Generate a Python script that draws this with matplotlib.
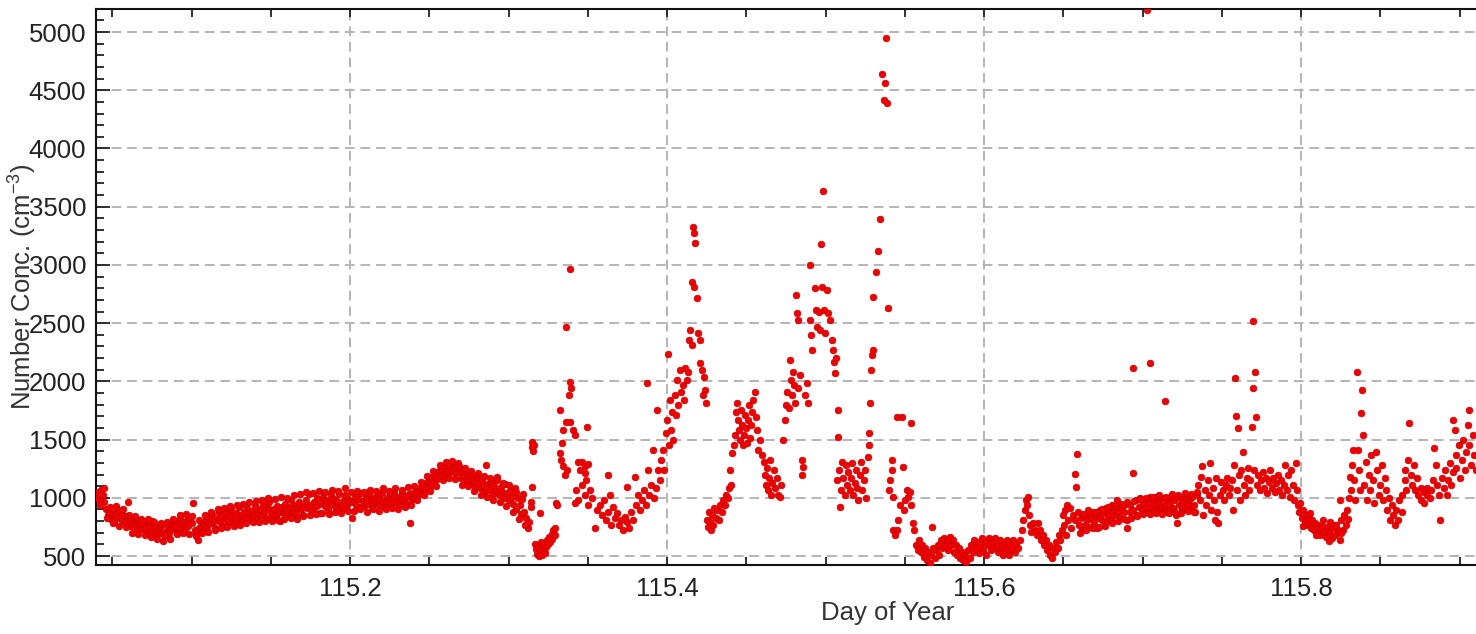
import matplotlib.pyplot as plt
from matplotlib.ticker import MultipleLocator

plt.rcParams['font.family'] = ['Liberation Sans', 'DejaVu Sans']
plt.rcParams['mathtext.default'] = 'regular'

# (day of year, number concentration), in chunks
seg_a = [
    (115.040, 1000), (115.041, 1050), (115.042, 970), (115.043, 1070), (115.044, 1020),
    (115.045, 960), (115.046, 900), (115.047, 850), (115.048, 880), (115.049, 820),
    (115.050, 870), (115.051, 800), (115.052, 860), (115.053, 900), (115.054, 830),
    (115.055, 880), (115.056, 810), (115.057, 850), (115.058, 790), (115.059, 840),
    (115.060, 960), (115.061, 800), (115.062, 760), (115.063, 820), (115.064, 780),
    (115.065, 740), (115.066, 810), (115.067, 770), (115.068, 820), (115.069, 730),
    (115.070, 790), (115.071, 750), (115.072, 700), (115.073, 780), (115.074, 740),
    (115.075, 800), (115.076, 710), (115.077, 760), (115.078, 690), (115.079, 740),
    (115.080, 700), (115.081, 760), (115.082, 630), (115.083, 710), (115.084, 680),
    (115.085, 750), (115.086, 700), (115.087, 770), (115.088, 730), (115.089, 800),
    (115.090, 750), (115.091, 700), (115.092, 780), (115.093, 820), (115.094, 740),
    (115.095, 790), (115.096, 720), (115.097, 810), (115.098, 760), (115.099, 830),
    (115.100, 780), (115.101, 955), (115.102, 720), (115.103, 690), (115.104, 640),
    (115.105, 740), (115.106, 790), (115.107, 720), (115.108, 760), (115.109, 810),
    (115.110, 750), (115.111, 830), (115.112, 780), (115.113, 860), (115.114, 800),
    (115.115, 740), (115.116, 820), (115.117, 870), (115.118, 790), (115.119, 840),
    (115.120, 760), (115.121, 880), (115.122, 820), (115.123, 790), (115.124, 860),
    (115.125, 900), (115.126, 830), (115.127, 780), (115.128, 870), (115.129, 820),
    (115.130, 920), (115.131, 850), (115.132, 800), (115.133, 880), (115.134, 830),
    (115.135, 910), (115.136, 860), (115.137, 810), (115.138, 890), (115.139, 840),
    (115.140, 930), (115.141, 870), (115.142, 820), (115.143, 900), (115.144, 850),
    (115.145, 940), (115.146, 880), (115.147, 830), (115.148, 910), (115.149, 960),
    (115.150, 870), (115.151, 820), (115.152, 900), (115.153, 850), (115.154, 930),
    (115.155, 880), (115.156, 800), (115.157, 920), (115.158, 870), (115.159, 950),
    (115.160, 890), (115.161, 840), (115.162, 920), (115.163, 980), (115.164, 880),
    (115.165, 940), (115.166, 860), (115.167, 910), (115.168, 960), (115.169, 900),
    (115.170, 850), (115.171, 930), (115.172, 980), (115.173, 910), (115.174, 1030),
    (115.175, 940), (115.176, 880), (115.177, 960), (115.178, 920), (115.179, 1000),
    (115.180, 940), (115.181, 870), (115.182, 960), (115.183, 1010), (115.184, 930),
    (115.185, 980), (115.186, 900), (115.187, 960), (115.188, 1020), (115.189, 940),
    (115.190, 990), (115.191, 920), (115.192, 970), (115.193, 1030), (115.194, 950),
    (115.195, 900), (115.196, 980), (115.197, 1020), (115.198, 940), (115.199, 990),
    (115.200, 960),
]

# second pass over the same stretch: the band is thick
seg_a2 = [
    (115.0405, 1030), (115.0425, 940), (115.0445, 1080), (115.0465, 830), (115.0485, 920),
    (115.0505, 780), (115.0525, 930), (115.0545, 760), (115.0565, 900), (115.0585, 750),
    (115.0605, 850), (115.0625, 700), (115.0645, 840), (115.0665, 690), (115.0685, 800),
    (115.0705, 680), (115.0725, 820), (115.0745, 660), (115.0765, 790), (115.0785, 650),
    (115.0805, 780), (115.0825, 680), (115.0845, 790), (115.0865, 650), (115.0885, 820),
    (115.0905, 690), (115.0925, 850), (115.0945, 700), (115.0965, 860), (115.0985, 690),
    (115.1005, 840), (115.1025, 670), (115.1045, 810), (115.1065, 700), (115.1085, 850),
    (115.1105, 710), (115.1125, 880), (115.1145, 720), (115.1165, 900), (115.1185, 740),
    (115.1205, 910), (115.1225, 750), (115.1245, 930), (115.1265, 760), (115.1285, 940),
    (115.1305, 770), (115.1325, 950), (115.1345, 780), (115.1365, 960), (115.1385, 790),
    (115.1405, 970), (115.1425, 790), (115.1445, 980), (115.1465, 800), (115.1485, 1000),
    (115.1505, 800), (115.1525, 990), (115.1545, 810), (115.1565, 1010), (115.1585, 820),
    (115.1605, 1000), (115.1625, 830), (115.1645, 1020), (115.1665, 820), (115.1685, 1030),
    (115.1705, 840), (115.1725, 1050), (115.1745, 850), (115.1765, 1040), (115.1785, 860),
    (115.1805, 1060), (115.1825, 870), (115.1845, 1050), (115.1865, 860), (115.1885, 1070),
    (115.1905, 880), (115.1925, 1060), (115.1945, 870), (115.1965, 1080), (115.1985, 890),
]

seg_b = [
    (115.201, 830), (115.202, 960), (115.203, 1010), (115.204, 940), (115.205, 990),
    (115.206, 920), (115.207, 1040), (115.208, 970), (115.209, 930), (115.210, 1000),
    (115.211, 950), (115.212, 1030), (115.213, 980), (115.214, 920), (115.215, 1000),
    (115.216, 960), (115.217, 1020), (115.218, 940), (115.219, 990), (115.220, 1040),
    (115.221, 960), (115.222, 920), (115.223, 1000), (115.224, 970), (115.225, 1030),
    (115.226, 950), (115.227, 990), (115.228, 1050), (115.229, 960), (115.230, 1010),
    (115.231, 940), (115.232, 990), (115.233, 1040), (115.234, 970), (115.235, 1010),
    (115.236, 950), (115.237, 1030), (115.238, 780), (115.239, 990), (115.240, 1040),
    (115.241, 1000), (115.242, 1060), (115.243, 1020), (115.244, 1080), (115.245, 1040),
    (115.246, 1100), (115.247, 1060), (115.248, 1130), (115.249, 1090), (115.250, 1150),
    (115.251, 1110), (115.252, 1180), (115.253, 1140), (115.254, 1200), (115.255, 1160),
    (115.256, 1230), (115.257, 1190), (115.258, 1250), (115.259, 1200), (115.260, 1270),
    (115.261, 1220), (115.262, 1180), (115.263, 1260), (115.264, 1230), (115.265, 1290),
    (115.266, 1210), (115.267, 1250), (115.268, 1300), (115.269, 1220), (115.270, 1170),
    (115.271, 1240), (115.272, 1190), (115.273, 1150), (115.274, 1210), (115.275, 1170),
    (115.276, 1120), (115.277, 1190), (115.278, 1150), (115.279, 1100), (115.280, 1170),
    (115.281, 1130), (115.282, 1080), (115.283, 1150), (115.284, 1110), (115.285, 1060),
    (115.286, 1280), (115.287, 1120), (115.288, 1070), (115.289, 1140), (115.290, 1030),
    (115.291, 1100), (115.292, 1060), (115.293, 1180), (115.294, 1020), (115.295, 1090),
    (115.296, 1050), (115.297, 1000), (115.298, 1120), (115.299, 1040), (115.300, 980),
    (115.301, 1060), (115.302, 1010), (115.303, 950), (115.304, 1080), (115.305, 900),
    (115.306, 1000), (115.307, 940), (115.308, 860), (115.309, 1030), (115.310, 880),
    (115.311, 830), (115.312, 740), (115.313, 790), (115.314, 960), (115.3150, 1090),
    (115.3148, 1480), (115.3150, 1440), (115.3155, 1400), (115.3158, 1450), (115.3142, 920),
    (115.3198, 870), (115.3170, 600), (115.3176, 560), (115.3182, 520), (115.3188, 580),
    (115.3195, 500), (115.3201, 540), (115.3207, 620), (115.3214, 510), (115.3220, 560),
    (115.3226, 600), (115.3233, 530), (115.3239, 580), (115.3245, 640), (115.3252, 600),
    (115.3258, 660), (115.3264, 620), (115.3271, 690), (115.3277, 650), (115.3283, 720),
    (115.3290, 680), (115.3296, 740),
]

seg_b2 = [
    (115.2005, 1050), (115.2025, 890), (115.2045, 1060), (115.2065, 900), (115.2085, 1050),
    (115.2105, 880), (115.2125, 1070), (115.2145, 900), (115.2165, 1060), (115.2185, 890),
    (115.2205, 1080), (115.2225, 900), (115.2245, 1060), (115.2265, 910), (115.2285, 1080),
    (115.2305, 900), (115.2325, 1070), (115.2345, 920), (115.2365, 1090), (115.2385, 940),
    (115.2405, 1100), (115.2425, 980), (115.2445, 1140), (115.2465, 1020), (115.2485, 1190),
    (115.2505, 1060), (115.2525, 1230), (115.2545, 1100), (115.2565, 1280), (115.2585, 1150),
    (115.2605, 1310), (115.2625, 1170), (115.2645, 1320), (115.2665, 1160), (115.2685, 1270),
    (115.2705, 1110), (115.2725, 1260), (115.2745, 1100), (115.2765, 1230), (115.2785, 1060),
    (115.2805, 1210), (115.2825, 1020), (115.2845, 1190), (115.2865, 1010), (115.2885, 1170),
    (115.2905, 980), (115.2925, 1150), (115.2945, 960), (115.2965, 1130), (115.2985, 930),
    (115.3005, 1110), (115.3025, 880), (115.3045, 1050), (115.3065, 820), (115.3085, 990),
    (115.3105, 770),
]

seg_c = [
    (115.3300, 955), (115.3306, 940), (115.3325, 1750), (115.3363, 2470), (115.3388, 2965),
    (115.3388, 1995), (115.3394, 1940), (115.3382, 1880), (115.3344, 1580), (115.3363, 1650),
    (115.3388, 1650), (115.3407, 1580), (115.3420, 1540), (115.3338, 1470), (115.3325, 1385),
    (115.3332, 1325), (115.3344, 1270), (115.3357, 1195), (115.3369, 1240), (115.3439, 1305),
    (115.3464, 1305), (115.3483, 1275), (115.3502, 1290), (115.3451, 1240), (115.3483, 1215),
    (115.3495, 1610), (115.3426, 1065), (115.3439, 980), (115.3464, 1110), (115.3483, 1025),
    (115.3502, 940), (115.3514, 1065), (115.3527, 1000), (115.3489, 1150), (115.3420, 955),
    (115.3546, 740), (115.3558, 895), (115.3577, 940), (115.3590, 850), (115.3602, 980),
    (115.3615, 810), (115.3628, 1195), (115.3628, 880), (115.3640, 1025), (115.3647, 765),
    (115.3660, 920), (115.3672, 825), (115.3685, 870), (115.3697, 765), (115.3710, 810),
    (115.3723, 725), (115.3735, 835), (115.3748, 1090), (115.3748, 790), (115.3760, 740),
    (115.3773, 880), (115.3786, 810), (115.3798, 1180), (115.3804, 940), (115.3817, 1025),
    (115.3830, 895), (115.3842, 980), (115.3855, 1065), (115.3867, 940), (115.3874, 1985),
    (115.3880, 1240), (115.3886, 1025), (115.3899, 1110), (115.3912, 1410), (115.3918, 1000),
    (115.3930, 1085), (115.3937, 1755), (115.3943, 1240), (115.3956, 1150), (115.3962, 1325),
    (115.3975, 1410), (115.3981, 1240), (115.3994, 1555), (115.4000, 1670), (115.4006, 2235),
    (115.4013, 1455), (115.4019, 1840), (115.4025, 1580), (115.4032, 1735), (115.4038, 1495),
    (115.4051, 1880), (115.4057, 1710), (115.4063, 2010), (115.4070, 1795), (115.4082, 2095),
    (115.4089, 1910), (115.4101, 1970), (115.4107, 1840), (115.4114, 2115), (115.4127, 2010),
    (115.4133, 2080), (115.4139, 2355), (115.4145, 2440), (115.4158, 2310), (115.4164, 3325),
    (115.4170, 3275), (115.4177, 3190), (115.4158, 2855), (115.4170, 2810), (115.4189, 2715),
    (115.4196, 2415), (115.4208, 2355), (115.4208, 2155), (115.4221, 2095), (115.4234, 2035),
    (115.4240, 1925), (115.4246, 1815), (115.4227, 1880),
]

seg_d = [
    (115.4253, 810), (115.4259, 750), (115.4265, 880), (115.4271, 790), (115.4278, 725),
    (115.4284, 850), (115.4290, 765), (115.4297, 910), (115.4309, 825), (115.4316, 895),
    (115.4328, 810), (115.4335, 940), (115.4347, 880), (115.4354, 980), (115.4366, 940),
    (115.4372, 1025), (115.4385, 1000), (115.4391, 1085), (115.4398, 1240), (115.4404, 1110),
    (115.4410, 1385), (115.4423, 1455), (115.4429, 1540), (115.4435, 1735), (115.4442, 1815),
    (115.4448, 1670), (115.4454, 1580), (115.4461, 1495), (115.4467, 1755), (115.4473, 1625),
    (115.4480, 1455), (115.4486, 1540), (115.4492, 1710), (115.4499, 1600), (115.4505, 1470),
    (115.4511, 1670), (115.4518, 1795), (115.4524, 1515), (115.4530, 1625), (115.4537, 1735),
    (115.4543, 1840), (115.4555, 1910), (115.4562, 1690), (115.4568, 1580), (115.4574, 1410),
    (115.4587, 1495), (115.4600, 1365), (115.4612, 1305), (115.4618, 1195), (115.4625, 1110),
    (115.4631, 1255), (115.4637, 1065), (115.4644, 1170), (115.4650, 1325), (115.4656, 1025),
    (115.4663, 1125), (115.4675, 1240), (115.4681, 1085), (115.4694, 1170), (115.4700, 1025),
    (115.4713, 1005), (115.4719, 1110), (115.4732, 1495), (115.4744, 1670), (115.4751, 1795),
    (115.4757, 1910), (115.4770, 1770), (115.4776, 2185), (115.4782, 2010), (115.4789, 1880),
    (115.4795, 2080), (115.4801, 1970), (115.4808, 1815), (115.4814, 2740), (115.4820, 2585),
    (115.4827, 2525), (115.4827, 1945), (115.4839, 2055), (115.4852, 1325), (115.4852, 1195),
    (115.4858, 1265), (115.4871, 1880), (115.4883, 1985), (115.4890, 1815), (115.4902, 3000),
    (115.4902, 2525), (115.4909, 2400), (115.4915, 2270), (115.4934, 2800), (115.4940, 2610),
    (115.4947, 2465), (115.4959, 2595), (115.4966, 2440), (115.4972, 3180), (115.4978, 2810),
    (115.4985, 3635), (115.4991, 2610), (115.4997, 2415), (115.5010, 2785), (115.5016, 2585),
    (115.5029, 2525), (115.5042, 2355), (115.5048, 2270), (115.5054, 2165), (115.5060, 2070),
    (115.5067, 2200), (115.5079, 1755), (115.5079, 1520), (115.5073, 1150), (115.5086, 1240),
    (115.5092, 920), (115.5098, 1065), (115.5105, 1305), (115.5111, 1170), (115.5123, 1025),
    (115.5130, 1280), (115.5136, 1110), (115.5143, 1220), (115.5155, 1065), (115.5162, 1170),
    (115.5168, 1300), (115.5174, 1025), (115.5187, 1125), (115.5193, 1240), (115.5200, 1085),
    (115.5206, 980), (115.5219, 1195), (115.5225, 1305), (115.5231, 1065), (115.5244, 1150),
    (115.5250, 1240), (115.5256, 1000), (115.5269, 1350), (115.5275, 1455), (115.5275, 1555),
    (115.5282, 1815), (115.5288, 2095), (115.5294, 2225), (115.5301, 2270), (115.5301, 2725),
    (115.5320, 2940), (115.5332, 3120), (115.5345, 3395), (115.5357, 4640), (115.5370, 4415),
    (115.5376, 4560), (115.5383, 4950), (115.5389, 4390), (115.5395, 2630), (115.5402, 1065),
    (115.5408, 1150), (115.5421, 1325), (115.5421, 1240), (115.5427, 1005), (115.5427, 725),
    (115.5439, 680), (115.5452, 1695), (115.5452, 725), (115.5458, 810), (115.5471, 940),
    (115.5484, 1695), (115.5490, 1265), (115.5496, 895), (115.5503, 980), (115.5515, 1065),
    (115.5522, 1005), (115.5534, 1050), (115.5541, 1640), (115.5541, 940), (115.5553, 785),
    (115.5560, 725),
]

seg_e = [
    (115.5571, 595), (115.5584, 550), (115.5590, 640), (115.5603, 535), (115.5609, 595),
    (115.5622, 490), (115.5628, 570), (115.5641, 465), (115.5647, 535), (115.5660, 440),
    (115.5666, 510), (115.5672, 750), (115.5679, 570), (115.5691, 485), (115.5698, 550),
    (115.5710, 595), (115.5717, 510), (115.5729, 640), (115.5735, 570), (115.5748, 655),
    (115.5754, 595), (115.5767, 640), (115.5773, 550), (115.5786, 665), (115.5792, 595),
    (115.5805, 640), (115.5811, 535), (115.5824, 595), (115.5830, 510), (115.5843, 570),
    (115.5849, 485), (115.5862, 535), (115.5868, 465), (115.5881, 510), (115.5887, 450),
    (115.5900, 550), (115.5912, 485), (115.5919, 595), (115.5931, 535), (115.5938, 640),
    (115.5950, 570), (115.5957, 620), (115.5969, 525), (115.5976, 595), (115.5988, 655),
    (115.5994, 550), (115.6007, 610), (115.6013, 510), (115.6026, 595), (115.6032, 655),
    (115.6045, 550), (115.6051, 620), (115.6064, 570), (115.6070, 655), (115.6083, 595),
    (115.6089, 535), (115.6102, 640), (115.6108, 570), (115.6121, 510), (115.6127, 595),
    (115.6140, 550), (115.6146, 640), (115.6159, 510), (115.6165, 595), (115.6178, 550),
    (115.6184, 640), (115.6197, 535), (115.6203, 595), (115.6216, 570), (115.6228, 640),
    (115.6241, 725), (115.6247, 810), (115.6260, 895), (115.6266, 980), (115.6272, 940),
    (115.6279, 1005), (115.6285, 850), (115.6291, 765), (115.6298, 705), (115.6310, 785),
    (115.6323, 725), (115.6336, 680), (115.6342, 785), (115.6355, 725), (115.6361, 640),
    (115.6374, 680), (115.6380, 595), (115.6393, 640), (115.6399, 550), (115.6412, 595),
    (115.6418, 510), (115.6431, 485), (115.6437, 570), (115.6450, 535), (115.6456, 620),
    (115.6469, 570), (115.6475, 680), (115.6481, 640), (115.6494, 725), (115.6500, 850),
    (115.6507, 765), (115.6513, 895), (115.6519, 680), (115.6526, 940), (115.6532, 810),
    (115.6545, 910), (115.6551, 740), (115.6564, 850), (115.6576, 1205), (115.6583, 1090),
    (115.6589, 1375), (115.6576, 810), (115.6595, 880), (115.6602, 765), (115.6614, 825),
    (115.6620, 725), (115.6633, 850), (115.6639, 765), (115.6652, 810), (115.6658, 895),
    (115.6671, 750), (115.6677, 825), (115.6690, 880), (115.6696, 790), (115.6709, 850),
    (115.6715, 740), (115.6728, 825), (115.6734, 895), (115.6747, 810), (115.6753, 870),
    (115.6766, 790), (115.6772, 910), (115.6785, 845), (115.6791, 895), (115.6804, 810),
    (115.6810, 940), (115.6823, 850), (115.6829, 895), (115.6842, 980), (115.6848, 880),
]

seg_f = [
    (115.6861, 825), (115.6867, 920), (115.6880, 880), (115.6886, 940), (115.6899, 810),
    (115.6905, 740), (115.6918, 880), (115.6924, 940), (115.6937, 2115), (115.6943, 1215),
    (115.6943, 895), (115.6956, 980), (115.6962, 850), (115.6975, 920), (115.6981, 1000),
    (115.6994, 895), (115.7000, 955), (115.7013, 910), (115.7019, 980), (115.7029, 5190),
    (115.7029, 880), (115.7035, 955), (115.7048, 2155), (115.7048, 1005), (115.7061, 910),
    (115.7067, 980), (115.7080, 940), (115.7086, 1005), (115.7099, 895), (115.7105, 965),
    (115.7118, 910), (115.7124, 1000), (115.7136, 880), (115.7143, 1830), (115.7143, 940),
    (115.7155, 980), (115.7162, 895), (115.7174, 955), (115.7181, 1005), (115.7193, 910),
    (115.7199, 980), (115.7212, 850), (115.7218, 785), (115.7231, 940), (115.7237, 1000),
    (115.7250, 895), (115.7256, 965), (115.7269, 910), (115.7275, 1005), (115.7288, 940),
    (115.7294, 980), (115.7307, 895), (115.7313, 1005), (115.7326, 940), (115.7332, 880),
    (115.7345, 1025), (115.7351, 1110), (115.7363, 980), (115.7370, 1180), (115.7376, 1275),
    (115.7382, 850), (115.7395, 1065), (115.7401, 940), (115.7414, 1150), (115.7420, 1025),
    (115.7427, 1300), (115.7433, 895), (115.7446, 1085), (115.7452, 980), (115.7458, 810),
    (115.7464, 1170), (115.7471, 880), (115.7477, 785), (115.7489, 1025), (115.7496, 1135),
    (115.7508, 1065), (115.7515, 980), (115.7527, 1110), (115.7534, 1170), (115.7546, 1025),
    (115.7552, 1085), (115.7565, 1150), (115.7571, 895), (115.7578, 1280), (115.7584, 2030),
    (115.7590, 1700), (115.7597, 1065), (115.7603, 1600), (115.7609, 1195), (115.7616, 980),
    (115.7622, 1240), (115.7635, 1395), (115.7641, 1110), (115.7647, 1025), (115.7660, 1170),
    (115.7666, 1255), (115.7673, 1065), (115.7679, 1150), (115.7692, 1610), (115.7698, 2520),
    (115.7698, 1945), (115.7704, 1240), (115.7711, 2080), (115.7717, 1695), (115.7723, 1110),
    (115.7730, 1195), (115.7742, 1065), (115.7749, 1150), (115.7761, 1220), (115.7767, 1085),
    (115.7780, 1170), (115.7786, 1040), (115.7799, 1135), (115.7805, 1240), (115.7818, 1085),
    (115.7824, 1170), (115.7837, 1050), (115.7843, 1125), (115.7856, 1195), (115.7862, 1065),
    (115.7875, 1150), (115.7881, 1025), (115.7894, 1110), (115.7900, 1280), (115.7913, 1065),
    (115.7919, 1195), (115.7932, 1005), (115.7938, 1240), (115.7951, 1110), (115.7957, 980),
    (115.7970, 1300), (115.7976, 1065), (115.7982, 940), (115.7989, 880), (115.7995, 955),
    (115.8008, 825), (115.8014, 895), (115.8027, 790), (115.8033, 850), (115.8046, 765),
    (115.8052, 825), (115.8065, 740), (115.8071, 810), (115.8084, 725), (115.8090, 785),
    (115.8103, 700), (115.8109, 765), (115.8122, 680), (115.8128, 740), (115.8141, 810),
    (115.8147, 715), (115.8160, 665), (115.8166, 750), (115.8179, 700), (115.8185, 790),
    (115.8198, 655), (115.8204, 740), (115.8217, 680), (115.8223, 765), (115.8236, 725),
    (115.8248, 640), (115.8248, 980), (115.8255, 810), (115.8267, 725), (115.8274, 850),
    (115.8286, 765), (115.8293, 895), (115.8305, 1000), (115.8311, 1180), (115.8318, 1065),
    (115.8324, 1280), (115.8330, 1410), (115.8337, 1150), (115.8343, 980), (115.8356, 2080),
    (115.8362, 1410), (115.8368, 1240), (115.8375, 1065), (115.8381, 1730), (115.8387, 1925),
    (115.8394, 1540), (115.8400, 1110), (115.8413, 1305), (115.8419, 980), (115.8432, 1195),
    (115.8438, 1065), (115.8444, 1365), (115.8457, 1150), (115.8463, 955), (115.8470, 1395),
    (115.8482, 1240), (115.8489, 1025), (115.8501, 1110), (115.8508, 1280), (115.8520, 980),
    (115.8527, 1170), (115.8539, 1065), (115.8545, 895), (115.8558, 1000), (115.8564, 810),
    (115.8577, 940), (115.8583, 850), (115.8596, 765), (115.8602, 895), (115.8615, 810),
    (115.8621, 980), (115.8634, 880), (115.8640, 1025), (115.8653, 1150), (115.8659, 1240),
    (115.8665, 1065), (115.8678, 1325), (115.8684, 1640), (115.8691, 1195), (115.8703, 1110),
    (115.8710, 1280), (115.8722, 1065), (115.8729, 1170), (115.8741, 1025), (115.8754, 1085),
    (115.8760, 980), (115.8773, 1050), (115.8779, 955), (115.8792, 1025), (115.8798, 1085),
    (115.8811, 1000), (115.8817, 1065), (115.8830, 1150), (115.8836, 1430), (115.8849, 1280),
    (115.8855, 1110), (115.8868, 1025), (115.8880, 810), (115.8887, 1170), (115.8899, 1085),
    (115.8906, 1240), (115.8918, 1025), (115.8925, 1150), (115.8937, 1300), (115.8944, 1110),
    (115.8956, 1220), (115.8962, 1670), (115.8969, 1580), (115.8975, 1365), (115.8981, 1255),
    (115.8994, 1455), (115.9000, 1170), (115.9013, 1325), (115.9019, 1495), (115.9032, 1240),
    (115.9038, 1395), (115.9051, 1625), (115.9057, 1755), (115.9063, 1455), (115.9070, 1280),
    (115.9082, 1540), (115.9089, 1365), (115.9101, 1240),
]

seg_f2 = [
    (115.6605, 700), (115.6625, 860), (115.6645, 720), (115.6665, 870), (115.6685, 740),
    (115.6705, 880), (115.6725, 750), (115.6745, 900), (115.6765, 760), (115.6785, 920),
    (115.6805, 780), (115.6825, 930), (115.6845, 800), (115.6865, 950), (115.6885, 820),
    (115.6905, 960), (115.6925, 830), (115.6945, 970), (115.6965, 840), (115.6985, 990),
    (115.7005, 860), (115.7025, 1000), (115.7045, 860), (115.7065, 1010), (115.7085, 870),
    (115.7105, 1020), (115.7125, 860), (115.7145, 1010), (115.7165, 870), (115.7185, 1030),
    (115.7205, 880), (115.7225, 1020), (115.7245, 870), (115.7265, 1040), (115.7285, 890),
    (115.7305, 1030), (115.7325, 880), (115.7345, 1050),
    (115.8015, 760), (115.8055, 870), (115.8095, 680), (115.8135, 760), (115.8175, 630),
    (115.8215, 770), (115.8255, 700), (115.8295, 820),
]

points = seg_a + seg_a2 + seg_b + seg_b2 + seg_c + seg_d + seg_e + seg_f + seg_f2
day = [p[0] for p in points]
conc = [p[1] for p in points]

W, H = 1476, 634
fig = plt.figure(figsize=(W / 100, H / 100), dpi=100)
# the right edge of the frame sits just past the picture, as in the original crop
ax = fig.add_axes([96 / W, (H - 565) / H, (1492 - 96) / W, (565 - 9) / H])

ax.scatter(day, conc, s=23, c='#f00000', edgecolors='#c80000', linewidths=0.5, zorder=3)

ax.set_xlim(115.0397, 115.9205)
ax.set_ylim(423, 5198)

ax.xaxis.set_major_locator(MultipleLocator(0.2))
ax.xaxis.set_minor_locator(MultipleLocator(0.05))
ax.yaxis.set_major_locator(MultipleLocator(500))
ax.yaxis.set_minor_locator(MultipleLocator(100))

ax.tick_params(axis='both', which='both', direction='in', top=True, right=False,
               colors='#222222', labelsize=18.5, width=1.3)
ax.tick_params(axis='y', which='major', length=10, pad=7)
ax.tick_params(axis='y', which='minor', length=6)
ax.tick_params(axis='x', which='major', length=6, pad=9)
ax.tick_params(axis='x', which='minor', length=5.5)

ax.grid(True, which='major', color='#b4b4b4', linestyle=(0, (5, 3)), linewidth=1.4)
for s in ax.spines.values():
    s.set_linewidth(1.5)
    s.set_color('#111111')

ax.set_xlabel('Day of Year', fontsize=18.5, color='#333333')
ax.xaxis.set_label_coords(0.567, -0.065)
# the label overlaps the tick labels in the original too
ax.set_ylabel('Number Conc. (cm$^{-3}$)', fontsize=18.5, color='#333333')
ax.yaxis.set_label_coords(-0.041, 0.5)

fig.savefig('out.png', dpi=100)
